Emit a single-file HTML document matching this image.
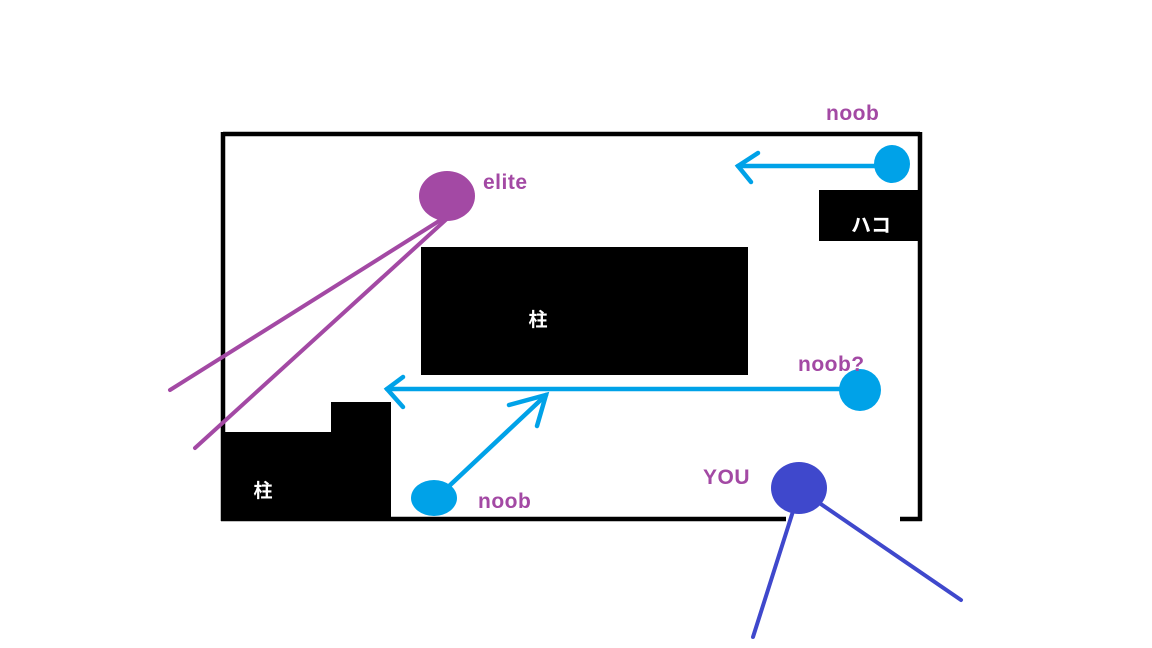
<!DOCTYPE html>
<html><head><meta charset="utf-8"><style>
html,body{margin:0;padding:0;background:#fff;width:1152px;height:648px;overflow:hidden}
text{font-family:"Liberation Sans","Noto Sans CJK JP",sans-serif;font-weight:bold}
</style></head><body>
<svg width="1152" height="648" xmlns="http://www.w3.org/2000/svg">
<g stroke="#000" stroke-width="4.5" fill="none">
<line x1="223" y1="134" x2="920" y2="134"/>
<line x1="223" y1="132" x2="223" y2="521"/>
<line x1="920" y1="132" x2="920" y2="521"/>
<line x1="221" y1="519" x2="786" y2="519"/>
<line x1="900" y1="519" x2="922" y2="519"/>
</g>
<rect x="421" y="247" width="327" height="128" fill="#000"/>
<rect x="819" y="190" width="103" height="51" fill="#000"/>
<rect x="221" y="432" width="170" height="89" fill="#000"/>
<rect x="331" y="402" width="60" height="40" fill="#000"/>
<text x="538" y="326" fill="#fff" font-size="19" text-anchor="middle">柱</text>
<text x="263" y="497" fill="#fff" font-size="19" text-anchor="middle">柱</text>
<text x="871" y="232" fill="#fff" font-size="20" text-anchor="middle">ハコ</text>
<g stroke="#a349a4" stroke-width="4" stroke-linecap="round">
<line x1="447" y1="216" x2="170" y2="390"/>
<line x1="450" y1="216" x2="195" y2="448"/>
</g>
<ellipse cx="447" cy="196" rx="28" ry="25" fill="#a349a4"/>
<g stroke="#00a2e8" stroke-width="4.5" stroke-linecap="round" fill="none">
<line x1="738" y1="166" x2="875" y2="166"/>
<polyline points="758,153 738,166 751,182"/>
<line x1="387" y1="389" x2="845" y2="389"/>
<polyline points="403,377 387,389 403,407"/>
<line x1="447" y1="488" x2="546" y2="395"/>
<polyline points="509,405 546,395 537,426"/>
</g>
<ellipse cx="892" cy="164" rx="18" ry="19" fill="#00a2e8"/>
<ellipse cx="860" cy="390" rx="21" ry="21" fill="#00a2e8"/>
<ellipse cx="434" cy="498" rx="23" ry="18" fill="#00a2e8"/>
<g stroke="#3f48cc" stroke-width="4" stroke-linecap="round">
<line x1="795" y1="505" x2="753" y2="637"/>
<line x1="815" y1="500" x2="961" y2="600"/>
</g>
<ellipse cx="799" cy="488" rx="28" ry="26" fill="#3f48cc"/>
<g fill="#a349a4" font-size="21" letter-spacing="0.5">
<text x="826" y="120">noob</text>
<text x="483" y="189">elite</text>
<text x="798" y="371">noob?</text>
<text x="478" y="508">noob</text>
<text x="703" y="484">YOU</text>
</g>
</svg>
</body></html>
